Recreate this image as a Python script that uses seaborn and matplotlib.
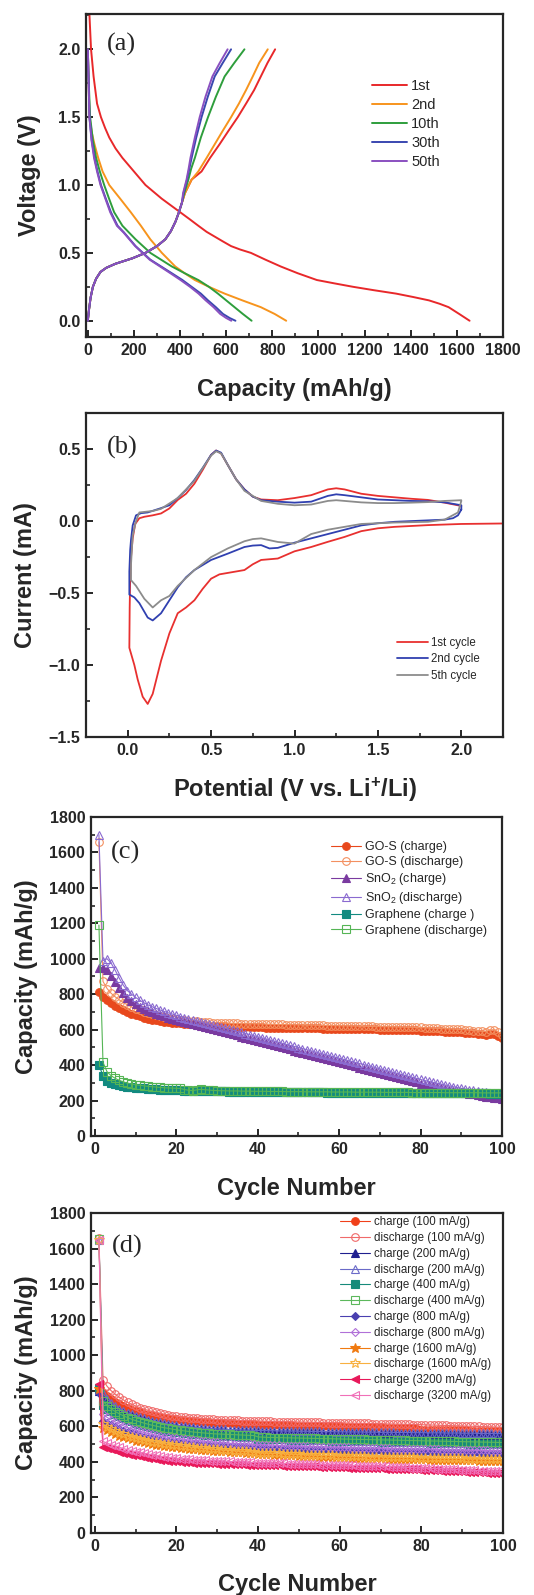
import numpy as np
import matplotlib
matplotlib.use("Agg")
import matplotlib.pyplot as plt
import seaborn as sns
from matplotlib.ticker import MultipleLocator

# ---------------- (a) charge / discharge profiles ----------------
cycle_names = ["1st", "2nd", "10th", "30th", "50th"]
cycle_colors = ["#e8282a", "#f7941d", "#2e9e3c", "#3a48b0", "#8a50c0"]

dis_cap = [
    [3, 14, 25, 40, 57, 75, 93, 120, 150, 200, 250, 320, 400, 440, 479, 515, 550, 585, 621, 660, 707, 770, 836,
     910, 993, 1070, 1150, 1240, 1336, 1410, 1479, 1525, 1564, 1610, 1655],
    [0, 3, 7, 18, 29, 45, 64, 93, 140, 186, 230, 271, 321, 379, 420, 464, 525, 593, 670, 750, 810, 860],
    [0, 3, 10, 22, 36, 52, 71, 92, 114, 150, 207, 271, 364, 420, 479, 525, 564, 600, 636, 672, 710],
    [0, 3, 7, 17, 29, 42, 57, 78, 100, 129, 157, 207, 271, 364, 410, 450, 490, 521, 555, 586, 615, 640],
    [0, 3, 7, 16, 27, 40, 55, 76, 97, 126, 155, 205, 268, 358, 402, 443, 480, 511, 545, 574, 600, 622],
]
dis_volt = [
    [2.40, 2.0, 1.8, 1.6, 1.5, 1.42, 1.35, 1.27, 1.2, 1.1, 1.0, 0.9, 0.8, 0.75, 0.7, 0.655, 0.62, 0.585, 0.55,
     0.525, 0.5, 0.45, 0.4, 0.35, 0.3, 0.275, 0.25, 0.225, 0.2, 0.175, 0.15, 0.125, 0.1, 0.05, 0.0],
    [2.0, 1.8, 1.5, 1.38, 1.3, 1.2, 1.1, 1.0, 0.9, 0.8, 0.7, 0.6, 0.5, 0.4, 0.35, 0.3, 0.25, 0.2, 0.15, 0.1,
     0.05, 0.0],
    [2.0, 1.8, 1.5, 1.33, 1.2, 1.1, 1.0, 0.9, 0.8, 0.7, 0.6, 0.5, 0.4, 0.35, 0.3, 0.25, 0.2, 0.15, 0.1, 0.05,
     0.0],
    [2.0, 1.8, 1.5, 1.33, 1.2, 1.1, 1.0, 0.9, 0.8, 0.7, 0.65, 0.55, 0.45, 0.35, 0.3, 0.25, 0.2, 0.15, 0.1,
     0.05, 0.02, 0.0],
    [2.0, 1.8, 1.5, 1.33, 1.2, 1.1, 1.0, 0.9, 0.8, 0.7, 0.65, 0.55, 0.45, 0.35, 0.3, 0.25, 0.2, 0.15, 0.1,
     0.05, 0.02, 0.0],
]
chg_low_cap = [0, 5, 12, 22, 36, 55, 80, 120, 193, 250, 300, 336, 360, 380, 393, 408]
chg_low_volt = [0.0, 0.08, 0.17, 0.25, 0.31, 0.36, 0.39, 0.42, 0.46, 0.5, 0.55, 0.6, 0.66, 0.73, 0.79, 0.87]
chg_cap = [
    chg_low_cap + [421, 450, 493, 530, 571, 610, 650, 686, 721, 750, 779, 812],
    chg_low_cap + [421, 450, 479, 515, 550, 585, 621, 655, 686, 715, 743, 780],
    chg_low_cap + [418, 436, 448, 464, 490, 521, 555, 593, 635, 679],
    chg_low_cap + [415, 430, 440, 450, 470, 493, 520, 550, 585, 621],
    chg_low_cap + [413, 428, 437, 445, 464, 485, 510, 540, 572, 606],
]
chg_volt = [
    chg_low_volt + [0.94, 1.04, 1.1, 1.2, 1.3, 1.4, 1.5, 1.6, 1.7, 1.8, 1.9, 2.0],
    chg_low_volt + [0.94, 1.04, 1.1, 1.2, 1.3, 1.4, 1.5, 1.6, 1.7, 1.8, 1.9, 2.0],
    chg_low_volt + [0.94, 1.04, 1.12, 1.2, 1.35, 1.5, 1.65, 1.8, 1.9, 2.0],
    chg_low_volt + [0.94, 1.04, 1.12, 1.2, 1.35, 1.5, 1.65, 1.8, 1.9, 2.0],
    chg_low_volt + [0.94, 1.04, 1.12, 1.2, 1.35, 1.5, 1.65, 1.8, 1.9, 2.0],
]

# ---------------- (b) cyclic voltammetry ----------------
cv_names = ["1st cycle", "2nd cycle", "5th cycle"]
cv_colors = ["#e8302f", "#3040b0", "#8c8c8c"]
cv_pot = [
    [2.30, 2.0, 1.8, 1.6, 1.5, 1.4, 1.3, 1.2, 1.1, 1.0, 0.9, 0.8, 0.75, 0.7, 0.6, 0.55, 0.5, 0.45, 0.4, 0.35,
     0.3, 0.25, 0.2, 0.15, 0.12, 0.09, 0.06, 0.04, 0.02, 0.01, 0.012, 0.015, 0.02, 0.03, 0.045, 0.07, 0.1, 0.15,
     0.2, 0.25, 0.3, 0.35, 0.4, 0.45, 0.5, 0.53, 0.56, 0.6, 0.65, 0.7, 0.75, 0.8, 0.9, 1.0, 1.1, 1.2, 1.25, 1.3,
     1.4, 1.5, 1.6, 1.7, 1.8, 1.9, 2.0],
    [2.0, 1.98, 1.95, 1.9, 1.8, 1.7, 1.6, 1.5, 1.4, 1.3, 1.2, 1.1, 1.0, 0.9, 0.85, 0.8, 0.75, 0.7, 0.6, 0.5,
     0.4, 0.35, 0.3, 0.25, 0.2, 0.15, 0.12, 0.1, 0.07, 0.04, 0.01, 0.01, 0.015, 0.02, 0.03, 0.05, 0.08, 0.12,
     0.2, 0.25, 0.3, 0.35, 0.4, 0.45, 0.5, 0.53, 0.56, 0.6, 0.65, 0.7, 0.75, 0.8, 0.9, 1.0, 1.1, 1.2, 1.25, 1.3,
     1.4, 1.5, 1.6, 1.7, 1.8, 1.9, 2.0, 2.0],
    [2.0, 1.98, 1.9, 1.8, 1.6, 1.4, 1.2, 1.1, 1.0, 0.9, 0.8, 0.75, 0.7, 0.6, 0.5, 0.4, 0.3, 0.25, 0.2, 0.15,
     0.1, 0.05, 0.02, 0.02, 0.03, 0.05, 0.07, 0.15, 0.2, 0.3, 0.4, 0.5, 0.53, 0.56, 0.6, 0.65, 0.7, 0.8, 0.9,
     1.0, 1.1, 1.2, 1.25, 1.3, 1.4, 1.5, 1.6, 1.7, 1.8, 1.9, 2.0],
]
cv_cur = [
    [-0.016, -0.02, -0.028, -0.04, -0.05, -0.07, -0.11, -0.144, -0.18, -0.21, -0.26, -0.27, -0.30, -0.34, -0.36,
     -0.37, -0.40, -0.47, -0.55, -0.60, -0.64, -0.78, -0.97, -1.20, -1.27, -1.22, -1.10, -1.00, -0.92, -0.88,
     -0.60, -0.40, -0.25, -0.12, -0.02, 0.02, 0.03, 0.04, 0.053, 0.088, 0.147, 0.19, 0.26, 0.356, 0.46, 0.49,
     0.47, 0.39, 0.29, 0.22, 0.17, 0.15, 0.145, 0.16, 0.18, 0.22, 0.228, 0.22, 0.19, 0.175, 0.165, 0.155, 0.147,
     0.128, 0.105],
    [0.08, 0.04, 0.02, 0.01, 0.005, 0.0, -0.005, -0.015, -0.03, -0.06, -0.09, -0.12, -0.15, -0.186, -0.19,
     -0.167, -0.17, -0.18, -0.226, -0.27, -0.34, -0.39, -0.46, -0.55, -0.64, -0.69, -0.67, -0.63, -0.57, -0.53,
     -0.51, -0.35, -0.20, -0.13, -0.03, 0.04, 0.055, 0.06, 0.09, 0.11, 0.16, 0.216, 0.286, 0.37, 0.46, 0.49,
     0.475, 0.39, 0.29, 0.22, 0.17, 0.145, 0.135, 0.128, 0.135, 0.175, 0.186, 0.18, 0.165, 0.15, 0.145, 0.14,
     0.138, 0.13, 0.11, 0.08],
    [0.14, 0.06, 0.01, -0.005, -0.01, -0.02, -0.06, -0.09, -0.156, -0.145, -0.12, -0.125, -0.14, -0.19, -0.25,
     -0.34, -0.45, -0.52, -0.55, -0.60, -0.54, -0.45, -0.41, -0.30, -0.10, 0.0, 0.06, 0.07, 0.085, 0.16, 0.28,
     0.455, 0.485, 0.47, 0.39, 0.29, 0.21, 0.14, 0.12, 0.11, 0.115, 0.14, 0.145, 0.14, 0.13, 0.125, 0.125,
     0.128, 0.132, 0.14, 0.145],
]

# ---------------- (c) cycling of three materials ----------------
cycles = list(range(1, 101))
gos_charge = [812, 785, 765, 748, 735, 722, 710, 700, 690, 682,
              675, 668, 662, 657, 652, 648, 645, 642, 640, 637,
              635, 633, 631, 629, 627, 625, 624, 622, 621, 620,
              619, 618, 617, 616, 615, 615, 614, 613, 613, 612,
              612, 611, 611, 610, 610, 610, 609, 609, 609, 608,
              608, 608, 607, 607, 607, 606, 606, 606, 605, 605,
              605, 604, 604, 603, 603, 602, 602, 601, 601, 600,
              600, 599, 599, 598, 598, 597, 597, 596, 596, 595,
              594, 593, 592, 591, 590, 589, 588, 587, 586, 585,
              583, 581, 579, 577, 575, 572, 578, 575, 565, 555]
gos_discharge = [1660, 872, 832, 805, 785, 768, 752, 740, 728, 718,
                 708, 700, 693, 686, 680, 675, 670, 666, 662, 659,
                 656, 653, 651, 649, 647, 645, 643, 641, 640, 639,
                 638, 637, 636, 635, 635, 634, 634, 633, 633, 632,
                 632, 631, 630, 630, 629, 629, 628, 628, 627, 627,
                 626, 626, 625, 625, 624, 624, 623, 623, 622, 622,
                 621, 621, 620, 620, 619, 619, 618, 618, 617, 617,
                 616, 616, 615, 615, 614, 614, 613, 613, 612, 612,
                 610, 609, 608, 607, 606, 605, 604, 603, 602, 601,
                 599, 597, 595, 593, 591, 589, 598, 600, 588, 572]
sno2_charge = [950, 948, 935, 905, 870, 835, 805, 780, 760, 742,
               728, 716, 706, 697, 689, 682, 675, 668, 662, 656,
               650, 644, 638, 632, 626, 620, 614, 608, 602, 597,
               591, 585, 579, 573, 567, 561, 555, 549, 543, 537,
               531, 525, 519, 513, 507, 500, 494, 488, 482, 476,
               470, 464, 458, 452, 446, 440, 434, 428, 422, 416,
               410, 404, 398, 392, 386, 380, 374, 368, 362, 356,
               350, 344, 338, 332, 326, 320, 314, 308, 302, 296,
               290, 285, 280, 275, 270, 265, 260, 255, 250, 246,
               242, 238, 234, 230, 226, 222, 219, 216, 213, 210]
sno2_discharge = [1700, 990, 1000, 975, 935, 890, 850, 820, 800, 782,
                  766, 752, 740, 730, 720, 711, 703, 695, 688, 681,
                  674, 668, 662, 656, 650, 644, 638, 632, 626, 620,
                  614, 608, 602, 596, 590, 584, 578, 572, 566, 560,
                  554, 548, 542, 536, 530, 523, 517, 511, 505, 499,
                  493, 487, 481, 475, 469, 463, 457, 451, 445, 439,
                  433, 427, 421, 415, 409, 403, 397, 391, 385, 379,
                  373, 367, 361, 355, 349, 343, 337, 331, 325, 319,
                  313, 308, 303, 298, 293, 288, 283, 278, 273, 269,
                  265, 261, 257, 253, 250, 247, 244, 241, 238, 235]
gr_charge = [400, 340, 312, 300, 292, 286, 282, 278, 275, 273,
             270, 268, 266, 264, 263, 262, 261, 260, 259, 258,
             257, 256, 255, 254, 254, 253, 253, 252, 252, 251,
             251, 251, 250, 250, 250, 250, 249, 249, 249, 249,
             248, 248, 248, 248, 248, 247, 247, 247, 247, 247,
             246, 246, 246, 246, 246, 246, 245, 245, 245, 245,
             245, 245, 244, 244, 244, 244, 244, 244, 243, 243,
             243, 243, 243, 243, 243, 242, 242, 242, 242, 242,
             242, 242, 241, 241, 241, 241, 241, 241, 241, 240,
             240, 240, 240, 240, 240, 240, 239, 239, 239, 239]
gr_discharge = [1190, 415, 362, 340, 325, 314, 305, 298, 293, 289,
                286, 283, 280, 278, 276, 274, 272, 271, 270, 269,
                268, 262, 258, 256, 260, 263, 261, 259, 257, 256,
                255, 255, 254, 254, 254, 253, 253, 253, 252, 252,
                252, 252, 251, 251, 251, 251, 250, 250, 250, 250,
                250, 249, 249, 249, 249, 249, 249, 248, 248, 248,
                248, 248, 248, 247, 247, 247, 247, 247, 247, 247,
                246, 246, 246, 246, 246, 246, 246, 245, 245, 245,
                245, 245, 245, 245, 245, 244, 244, 244, 244, 244,
                244, 244, 244, 244, 243, 243, 243, 243, 243, 243]

# ---------------- (d) rate test ----------------
c100 = [812, 790, 770, 752, 738, 725, 713, 703, 694, 686,
        679, 672, 666, 661, 656, 652, 648, 645, 642, 639,
        636, 634, 632, 630, 628, 626, 624, 623, 621, 620,
        619, 618, 617, 616, 615, 614, 613, 612, 611, 610,
        610, 609, 608, 607, 607, 606, 605, 605, 604, 604,
        603, 603, 602, 602, 601, 601, 600, 600, 599, 599,
        598, 598, 597, 597, 596, 596, 595, 595, 594, 594,
        593, 593, 592, 592, 591, 591, 590, 590, 584, 582,
        582, 581, 581, 580, 580, 579, 579, 578, 578, 577,
        577, 576, 576, 575, 575, 574, 574, 573, 573, 572]
d100 = [1660, 862, 825, 800, 780, 763, 748, 735, 724, 714,
        705, 697, 690, 684, 678, 673, 668, 664, 660, 657,
        654, 651, 649, 647, 645, 643, 641, 640, 639, 638,
        637, 636, 635, 634, 633, 632, 632, 631, 630, 630,
        629, 628, 628, 627, 627, 626, 626, 625, 625, 624,
        624, 623, 623, 622, 622, 621, 621, 620, 620, 619,
        619, 618, 618, 617, 617, 616, 616, 615, 615, 614,
        614, 613, 613, 612, 612, 611, 611, 610, 610, 609,
        608, 607, 607, 606, 605, 605, 604, 603, 603, 602,
        601, 600, 600, 599, 598, 598, 597, 596, 595, 594]
c200 = [800, 760, 735, 715, 700, 688, 677, 667, 658, 650,
        643, 636, 630, 624, 619, 614, 610, 606, 602, 599,
        596, 593, 590, 588, 586, 584, 582, 580, 579, 578,
        577, 576, 575, 574, 573, 572, 571, 570, 570, 569,
        569, 568, 568, 567, 567, 566, 566, 565, 565, 565,
        564, 564, 564, 563, 563, 563, 562, 562, 562, 561,
        561, 561, 560, 560, 560, 559, 559, 559, 558, 558,
        558, 558, 557, 557, 557, 557, 556, 556, 556, 556,
        555, 555, 555, 555, 554, 554, 554, 554, 553, 553,
        553, 553, 552, 552, 552, 552, 551, 551, 551, 550]
d200 = [1650, 785, 752, 730, 713, 699, 687, 676, 667, 659,
        651, 644, 638, 632, 627, 622, 617, 613, 609, 606,
        603, 600, 597, 595, 593, 591, 589, 587, 586, 585,
        584, 583, 582, 581, 580, 579, 578, 578, 577, 577,
        576, 576, 575, 575, 574, 574, 573, 573, 573, 572,
        572, 572, 571, 571, 571, 570, 570, 570, 569, 569,
        569, 568, 568, 568, 568, 567, 567, 567, 567, 566,
        566, 566, 566, 565, 565, 565, 565, 564, 564, 564,
        564, 563, 563, 563, 563, 562, 562, 562, 562, 561,
        561, 561, 561, 560, 560, 560, 560, 559, 559, 559]
c400 = [815, 722, 700, 684, 670, 658, 647, 637, 628, 620,
        613, 606, 600, 594, 589, 584, 580, 576, 572, 569,
        566, 563, 560, 558, 556, 554, 552, 550, 549, 548,
        547, 546, 545, 544, 543, 542, 541, 540, 539, 530,
        529, 528, 528, 527, 527, 526, 526, 525, 525, 524,
        524, 523, 523, 522, 522, 521, 521, 520, 520, 519,
        519, 518, 518, 517, 517, 516, 516, 515, 515, 514,
        514, 513, 513, 512, 512, 511, 511, 510, 510, 509,
        509, 508, 508, 507, 507, 506, 506, 505, 505, 504,
        504, 503, 503, 502, 502, 501, 501, 500, 500, 499]
d400 = [1655, 742, 716, 698, 683, 670, 659, 649, 640, 632,
        625, 618, 612, 606, 601, 596, 592, 588, 584, 580,
        577, 574, 571, 568, 566, 564, 562, 560, 558, 557,
        556, 555, 554, 553, 552, 551, 550, 549, 548, 540,
        539, 538, 537, 537, 536, 536, 535, 535, 534, 534,
        533, 533, 532, 532, 531, 531, 530, 530, 529, 529,
        528, 528, 527, 527, 526, 526, 525, 525, 524, 524,
        523, 523, 522, 522, 521, 521, 520, 520, 519, 519,
        518, 518, 517, 517, 516, 516, 515, 515, 514, 514,
        513, 513, 512, 512, 511, 511, 510, 510, 509, 509]
c800 = [790, 632, 618, 606, 595, 585, 576, 568, 561, 554,
        548, 542, 537, 532, 528, 524, 520, 517, 514, 511,
        508, 505, 503, 501, 499, 497, 495, 493, 491, 490,
        488, 487, 486, 484, 483, 482, 481, 480, 479, 478,
        477, 476, 475, 474, 473, 473, 472, 471, 470, 470,
        469, 468, 468, 467, 466, 466, 465, 465, 464, 464,
        463, 463, 462, 462, 461, 461, 460, 460, 459, 459,
        458, 458, 457, 457, 456, 456, 455, 455, 454, 454,
        453, 453, 452, 452, 451, 451, 450, 450, 449, 449,
        448, 448, 447, 447, 446, 446, 445, 445, 444, 444]
d800 = [1650, 668, 650, 636, 624, 613, 603, 594, 586, 579,
        572, 566, 560, 555, 550, 546, 542, 538, 535, 532,
        529, 526, 523, 521, 519, 517, 515, 513, 511, 509,
        508, 506, 505, 503, 502, 501, 500, 499, 498, 497,
        496, 495, 494, 493, 492, 491, 490, 490, 489, 488,
        487, 487, 486, 485, 485, 484, 483, 483, 482, 482,
        481, 481, 480, 480, 479, 479, 478, 478, 477, 477,
        476, 476, 475, 475, 474, 474, 473, 473, 472, 472,
        471, 471, 470, 470, 469, 469, 468, 468, 467, 467,
        466, 466, 465, 465, 464, 464, 463, 463, 462, 462]
c1600 = [810, 592, 578, 566, 556, 547, 539, 532, 526, 520,
         515, 510, 505, 501, 497, 494, 491, 488, 485, 482,
         479, 477, 475, 473, 471, 469, 467, 465, 463, 462,
         460, 459, 457, 456, 454, 453, 452, 450, 449, 445,
         444, 443, 442, 441, 440, 439, 438, 437, 436, 435,
         434, 433, 432, 431, 430, 429, 428, 428, 427, 426,
         425, 425, 424, 423, 423, 422, 421, 421, 420, 420,
         419, 418, 418, 417, 417, 416, 416, 415, 415, 414,
         414, 413, 413, 412, 412, 411, 411, 410, 410, 409,
         409, 408, 408, 407, 407, 406, 406, 405, 405, 404]
d1600 = [1650, 612, 598, 586, 575, 565, 556, 548, 541, 535,
         529, 524, 519, 514, 510, 506, 502, 499, 496, 493,
         490, 487, 485, 482, 480, 478, 476, 474, 472, 470,
         468, 466, 465, 463, 462, 460, 459, 457, 456, 452,
         451, 450, 449, 448, 447, 446, 445, 444, 443, 442,
         441, 440, 440, 439, 438, 437, 437, 436, 435, 435,
         434, 433, 433, 432, 432, 431, 430, 430, 429, 429,
         428, 428, 427, 427, 426, 426, 425, 425, 424, 424,
         423, 423, 422, 422, 421, 421, 420, 420, 419, 419,
         418, 418, 417, 417, 416, 416, 415, 415, 414, 414]
c3200 = [840, 482, 476, 470, 464, 458, 452, 446, 441, 436,
         431, 427, 423, 419, 415, 412, 409, 406, 404, 402,
         400, 398, 397, 396, 395, 394, 393, 392, 391, 390,
         389, 388, 388, 387, 386, 386, 385, 384, 384, 383,
         382, 382, 381, 380, 380, 379, 378, 378, 377, 376,
         376, 375, 374, 374, 373, 372, 372, 371, 370, 370,
         369, 368, 368, 367, 366, 366, 365, 364, 364, 363,
         362, 362, 361, 360, 360, 359, 358, 358, 357, 356,
         355, 354, 353, 352, 351, 350, 349, 348, 347, 346,
         345, 344, 343, 342, 341, 340, 339, 338, 337, 336]
d3200 = [1650, 515, 505, 497, 489, 482, 475, 469, 463, 458,
         453, 448, 444, 440, 436, 432, 429, 426, 423, 420,
         418, 416, 414, 412, 410, 409, 408, 407, 406, 405,
         404, 403, 402, 401, 400, 399, 398, 397, 396, 395,
         394, 394, 393, 392, 392, 391, 390, 390, 389, 388,
         388, 387, 386, 386, 385, 384, 384, 383, 382, 382,
         381, 380, 380, 379, 378, 378, 377, 376, 376, 375,
         374, 373, 372, 371, 370, 369, 368, 367, 366, 365,
         364, 363, 362, 361, 360, 359, 358, 357, 356, 355,
         354, 353, 352, 351, 350, 349, 348, 347, 346, 345]

sns.set_style("ticks")
plt.rcParams["font.family"] = ["Liberation Sans", "DejaVu Sans"]
plt.rcParams["mathtext.default"] = "regular"
plt.rcParams["axes.linewidth"] = 1.6

fig = plt.figure(figsize=(5.34, 15.95), dpi=100)
ax_a = fig.add_axes([0.161, 0.7887, 0.781, 0.2025])
ax_b = fig.add_axes([0.161, 0.5379, 0.781, 0.2031])
ax_c = fig.add_axes([0.170, 0.2878, 0.770, 0.2000])
ax_d = fig.add_axes([0.170, 0.0389, 0.772, 0.2006])


def style_axis(ax, xmaj, xmin, ymaj, ymin, xlabel, ylabel, tag, tag_y, xpad=12, ypad=8):
    ax.xaxis.set_major_locator(MultipleLocator(xmaj))
    ax.xaxis.set_minor_locator(MultipleLocator(xmin))
    ax.yaxis.set_major_locator(MultipleLocator(ymaj))
    ax.yaxis.set_minor_locator(MultipleLocator(ymin))
    ax.tick_params(which="major", direction="in", length=5, width=1.4,
                   labelsize=11.5, pad=4, top=False, right=False)
    ax.tick_params(which="minor", direction="in", length=3, width=1.2,
                   top=False, right=False)
    for lab in ax.get_xticklabels() + ax.get_yticklabels():
        lab.set_fontweight("bold")
    ax.set_xlabel(xlabel, fontsize=17, fontweight="bold", labelpad=xpad)
    ax.set_ylabel(ylabel, fontsize=17, fontweight="bold", labelpad=ypad)
    ax.text(0.05, tag_y, tag, transform=ax.transAxes, fontsize=19,
            family=["Liberation Serif", "DejaVu Serif"], va="center", ha="left")


# (a)
for i in range(5):
    sns.lineplot(x=dis_cap[i], y=dis_volt[i], ax=ax_a, sort=False, estimator=None,
                 color=cycle_colors[i], linewidth=1.4, label=cycle_names[i])
    sns.lineplot(x=chg_cap[i], y=chg_volt[i], ax=ax_a, sort=False, estimator=None,
                 color=cycle_colors[i], linewidth=1.4)
ax_a.set_xlim(-8, 1800)
ax_a.set_ylim(-0.12, 2.26)
ax_a.legend(loc="upper left", bbox_to_anchor=(0.685, 0.80), frameon=False, fontsize=10.5,
            handlelength=2.4, handletextpad=0.3, labelspacing=0.35, borderpad=0, borderaxespad=0)
style_axis(ax_a, 200, 100, 0.5, 0.25, "Capacity (mAh/g)", "Voltage (V)", "(a)", 0.905,
           xpad=15, ypad=12)

# (b)
for i in range(3):
    sns.lineplot(x=cv_pot[i], y=cv_cur[i], ax=ax_b, sort=False, estimator=None,
                 color=cv_colors[i], linewidth=1.3, label=cv_names[i])
ax_b.set_xlim(-0.25, 2.25)
ax_b.set_ylim(-1.5, 0.75)
ax_b.legend(loc="upper left", bbox_to_anchor=(0.745, 0.31), frameon=False, fontsize=8.3,
            handlelength=2.7, handletextpad=0.3, labelspacing=0.4, borderpad=0, borderaxespad=0)
style_axis(ax_b, 0.5, 0.25, 0.5, 0.25, "Potential (V vs. Li$^{+}$/Li)", "Current (mA)", "(b)", 0.895,
           xpad=13, ypad=8)

# (c)
series_c = [
    (gos_charge, "GO-S (charge)", "#e8481c", "o", True),
    (gos_discharge, "GO-S (discharge)", "#f39060", "o", False),
    (sno2_charge, "SnO$_2$ (charge)", "#7a3aa0", "^", True),
    (sno2_discharge, "SnO$_2$ (discharge)", "#8a6ad0", "^", False),
    (gr_charge, "Graphene (charge )", "#128a80", "s", True),
    (gr_discharge, "Graphene (discharge)", "#55b555", "s", False),
]
for vals, name, col, mk, filled in series_c:
    sns.lineplot(x=cycles, y=vals, ax=ax_c, sort=False, estimator=None, color=col,
                 linewidth=0.8, marker=mk, markersize=5.5,
                 markerfacecolor=col if filled else "none", markeredgecolor=col,
                 markeredgewidth=0.8, label=name)
ax_c.set_xlim(-1, 100)
ax_c.set_ylim(0, 1800)
ax_c.legend(loc="upper left", bbox_to_anchor=(0.585, 0.925), frameon=False, fontsize=9,
            handlelength=2.4, handletextpad=0.3, labelspacing=0.25, borderpad=0, borderaxespad=0)
style_axis(ax_c, 20, 10, 200, 100, "Cycle Number", "Capacity (mAh/g)", "(c)", 0.89, xpad=15)

# (d)
series_d = [
    (c100, "charge (100 mA/g)", "#f0401a", "o", True),
    (d100, "discharge (100 mA/g)", "#f06a6a", "o", False),
    (c200, "charge (200 mA/g)", "#1f1f8f", "^", True),
    (d200, "discharge (200 mA/g)", "#6a6ac8", "^", False),
    (c400, "charge (400 mA/g)", "#168a7a", "s", True),
    (d400, "discharge (400 mA/g)", "#5cb85c", "s", False),
    (c800, "charge (800 mA/g)", "#4a40b0", "D", True),
    (d800, "discharge (800 mA/g)", "#b070d8", "D", False),
    (c1600, "charge (1600 mA/g)", "#f07a10", "*", True),
    (d1600, "discharge (1600 mA/g)", "#f8b040", "*", False),
    (c3200, "charge (3200 mA/g)", "#e8185a", "<", True),
    (d3200, "discharge (3200 mA/g)", "#f070b8", "<", False),
]
for vals, name, col, mk, filled in series_d:
    ms = 7 if mk == "*" else (4.5 if mk == "D" else 5.5)
    sns.lineplot(x=cycles, y=vals, ax=ax_d, sort=False, estimator=None, color=col,
                 linewidth=0.8, marker=mk, markersize=ms,
                 markerfacecolor=col if filled else "none", markeredgecolor=col,
                 markeredgewidth=0.8, label=name)
ax_d.set_xlim(-1, 100)
ax_d.set_ylim(0, 1800)
ax_d.legend(loc="upper left", bbox_to_anchor=(0.605, 0.99), frameon=False, fontsize=8.3,
            handlelength=2.6, handletextpad=0.3, labelspacing=0.33, borderpad=0, borderaxespad=0)
style_axis(ax_d, 20, 10, 200, 100, "Cycle Number", "Capacity (mAh/g)", "(d)", 0.895, xpad=14)

fig.savefig("out.png", dpi=100)
